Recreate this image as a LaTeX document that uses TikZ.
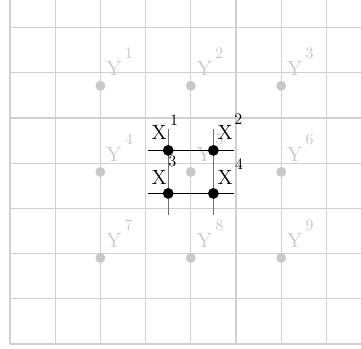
\documentclass[tikz,border=0pt]{standalone}
\usepackage{tikz}
\usetikzlibrary{positioning}
\definecolor{gridgray}{RGB}{208,208,208}
\definecolor{ygray}{RGB}{200,200,200}
\definecolor{xgray}{RGB}{110,110,110}

\begin{document}
\begin{tikzpicture}[x=1cm, y=0.952cm]
\useasboundingbox (-0.221,-0.109) rectangle (7.765,7.995);
\tikzset{
  ydot/.style={circle, fill=ygray, inner sep=0pt, minimum size=0.22cm},
  xdot/.style={circle, fill=black, inner sep=0pt, minimum size=0.24cm},
  ylab/.style={font=\fontsize{13}{15}\selectfont, text=ygray, inner sep=0pt},
  yidx/.style={font=\normalsize, text=ygray, inner sep=0pt},
  xlab/.style={font=\fontsize{13}{15}\selectfont, inner sep=0pt},
  xidx/.style={font=\normalsize, inner sep=0pt}
}
\draw[gridgray, line width=0.8pt] (0,0) grid (8,8);

% Y points
\node[ydot] (y1) at (2,6) {};
\node[ydot] (y2) at (4,6) {};
\node[ydot] (y3) at (6,6) {};
\node[ydot] (y4) at (2,4) {};
\node[ydot] (y5) at (4,4) {};
\node[ydot] (y6) at (6,4) {};
\node[ydot] (y7) at (2,2) {};
\node[ydot] (y8) at (4,2) {};
\node[ydot] (y9) at (6,2) {};

% Y labels
\node[ylab] (ly1) at (2.3,6.41) {Y};
\node[yidx] (iy1) at (2.63,6.76) {1};
\node[ylab] (ly2) at (4.3,6.41) {Y};
\node[yidx] (iy2) at (4.63,6.76) {2};
\node[ylab] (ly3) at (6.3,6.41) {Y};
\node[yidx] (iy3) at (6.63,6.76) {3};
\node[ylab] (ly4) at (2.3,4.41) {Y};
\node[yidx] (iy4) at (2.63,4.76) {4};
\node[ylab] (ly5) at (4.3,4.41) {Y};
\node[yidx] (iy5) at (4.63,4.76) {5};
\node[ylab] (ly6) at (6.3,4.41) {Y};
\node[yidx] (iy6) at (6.63,4.76) {6};
\node[ylab] (ly7) at (2.3,2.41) {Y};
\node[yidx] (iy7) at (2.63,2.76) {7};
\node[ylab] (ly8) at (4.3,2.41) {Y};
\node[yidx] (iy8) at (4.63,2.76) {8};
\node[ylab] (ly9) at (6.3,2.41) {Y};
\node[yidx] (iy9) at (6.63,2.76) {9};

% X cell
\coordinate (h1a) at (3.05,4.5);
\coordinate (h1b) at (4.95,4.5);
\coordinate (h2a) at (3.05,3.5);
\coordinate (h2b) at (4.95,3.5);
\coordinate (v1a) at (3.5,5);
\coordinate (v1b) at (3.5,3);
\coordinate (v2a) at (4.5,5);
\coordinate (v2b) at (4.5,3);
\draw[xgray, line width=0.7pt] (v1a) -- (v1b);
\draw[xgray, line width=0.7pt] (v2a) -- (v2b);
\draw[black, line width=0.7pt] (h1a) -- (h1b);
\draw[black, line width=0.7pt] (h2a) -- (h2b);

\node[xdot] (x1) at (3.5,4.5) {};
\node[xdot] (x2) at (4.5,4.5) {};
\node[xdot] (x3) at (3.5,3.5) {};
\node[xdot] (x4) at (4.5,3.5) {};

% X labels
\node[xlab] (lx1) at (3.3,4.91) {X};
\node[xidx] (ix1) at (3.63,5.2) {1};
\node[xlab] (lx2) at (4.76,4.91) {X};
\node[xidx] (ix2) at (5.05,5.22) {2};
\node[xlab] (lx3) at (3.3,3.87) {X};
\node[xidx] (ix3) at (3.59,4.24) {3};
\node[xlab] (lx4) at (4.76,3.87) {X};
\node[xidx] (ix4) at (5.07,4.19) {4};
\end{tikzpicture}
\end{document}
